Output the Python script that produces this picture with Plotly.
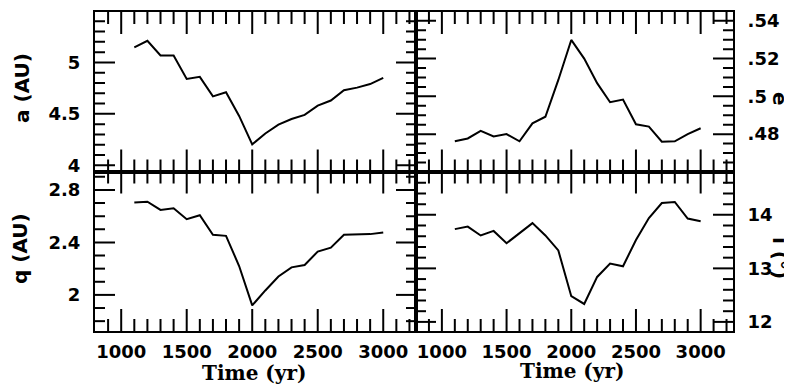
import numpy as np
import plotly.graph_objects as go

time_yr = [1100, 1200, 1300, 1400, 1500, 1600, 1700, 1800, 1900, 2000,
           2100, 2200, 2300, 2400, 2500, 2600, 2700, 2800, 2900, 3000]
a_au = [5.146, 5.21, 5.067, 5.067, 4.84, 4.86, 4.67, 4.71, 4.48, 4.204,
        4.31, 4.395, 4.45, 4.49, 4.58, 4.63, 4.73, 4.755, 4.79, 4.85]
q_au = [2.703, 2.71, 2.647, 2.66, 2.577, 2.607, 2.458, 2.45, 2.22, 1.92,
        2.034, 2.14, 2.21, 2.228, 2.33, 2.36, 2.458, 2.46, 2.463, 2.476]
ecc = [0.4762, 0.4777, 0.4817, 0.4788, 0.48, 0.4762, 0.4857, 0.4892, 0.5087, 0.5299,
       0.52, 0.507, 0.4969, 0.4983, 0.4852, 0.484, 0.476, 0.4762, 0.48, 0.4831]
incl = [13.733, 13.78, 13.615, 13.70, 13.47, 13.66, 13.845, 13.615, 13.335, 12.48,
        12.335, 12.84, 13.09, 13.04, 13.53, 13.94, 14.22, 14.24, 13.93, 13.88]

x_ticks = [1000, 1500, 2000, 2500, 3000]
a_ticks = [4, 4.5, 5]
a_labels = ["4", "4.5", "5"]
q_ticks = [2, 2.4, 2.8]
q_labels = ["2", "2.4", "2.8"]
e_ticks = [0.48, 0.50, 0.52, 0.54]
e_labels = [".48", ".5", ".52", ".54"]
i_ticks = [12, 13, 14]
i_labels = ["12", "13", "14"]

x_range = [800, 3250]
a_range = [3.94, 5.49]
q_range = [1.725, 2.94]
e_range = [0.4602, 0.5447]
i_range = [11.83, 14.81]

fig = go.Figure()
line = dict(color="black", width=2)
fig.add_trace(go.Scatter(x=time_yr, y=a_au, mode="lines", line=line, xaxis="x", yaxis="y"))
fig.add_trace(go.Scatter(x=time_yr, y=ecc, mode="lines", line=line, xaxis="x2", yaxis="y2"))
fig.add_trace(go.Scatter(x=time_yr, y=q_au, mode="lines", line=line, xaxis="x3", yaxis="y3"))
fig.add_trace(go.Scatter(x=time_yr, y=incl, mode="lines", line=line, xaxis="x4", yaxis="y4"))

xsplit = 321 / 638
tickfont = dict(family="DejaVu Sans", size=18, color="black", weight="bold")


def xax(domain, anchor, labels):
    return dict(domain=domain, anchor=anchor, range=x_range, tickmode="array",
                tickvals=x_ticks, ticks="", showline=True, linecolor="black", linewidth=2,
                mirror=True, showgrid=False, zeroline=False, showticklabels=labels,
                tickfont=tickfont, ticklabelstandoff=3)


def yax(domain, anchor, rng, vals, text, side):
    return dict(domain=domain, anchor=anchor, range=rng, tickmode="array",
                tickvals=vals, ticktext=text, ticks="", side=side,
                showline=True, linecolor="black", linewidth=2, mirror=True,
                showgrid=False, zeroline=False, tickfont=tickfont, ticklabelstandoff=9)


fig.update_layout(
    template="none",
    width=784, height=381,
    margin=dict(l=87, r=59, t=4, b=58),
    paper_bgcolor="white", plot_bgcolor="white",
    showlegend=False,
    xaxis=xax([0, xsplit], "y", False),
    xaxis2=xax([xsplit, 1], "y2", False),
    xaxis3=xax([0, xsplit], "y3", True),
    xaxis4=xax([xsplit, 1], "y4", True),
    yaxis=yax([0.5, 1], "x", a_range, a_ticks, a_labels, "left"),
    yaxis2=yax([0.5, 1], "x2", e_range, e_ticks, e_labels, "right"),
    yaxis3=yax([0, 0.5], "x3", q_range, q_ticks, q_labels, "left"),
    yaxis4=yax([0, 0.5], "x4", i_range, i_ticks, i_labels, "right"),
)

# inside tick marks on all four sides of each panel, drawn in the axes' data units
panel_h = 159.5
panel_w = {"x": 321, "x2": 317, "x3": 321, "x4": 317}


def is_major(v, majors, step):
    return any(abs(v - m) < step * 1e-3 for m in majors)


def tick_trace(xr, yr, yrng, y_majors, y_step):
    xs, ys = [], []
    # x ticks (bottom and top)
    dy = (yrng[1] - yrng[0]) / panel_h
    for v in np.arange(900, x_range[1], 100):
        ln = (22 if is_major(v, x_ticks, 100) else 12) * dy
        xs += [v, v, None, v, v, None]
        ys += [yrng[0], yrng[0] + ln, None, yrng[1], yrng[1] - ln, None]
    # y ticks (left and right)
    dx = (x_range[1] - x_range[0]) / panel_w[xr]
    start = np.ceil(yrng[0] / y_step - 1e-9) * y_step
    for v in np.arange(start, yrng[1], y_step):
        ln = (20 if is_major(v, y_majors, y_step) else 10) * dx
        xs += [x_range[0], x_range[0] + ln, None, x_range[1], x_range[1] - ln, None]
        ys += [v, v, None, v, v, None]
    fig.add_trace(go.Scatter(x=xs, y=ys, mode="lines", xaxis=xr, yaxis=yr,
                             line=dict(color="black", width=2), hoverinfo="skip",
                             cliponaxis=False))


tick_trace("x", "y", a_range, a_ticks, 0.1)
tick_trace("x2", "y2", e_range, e_ticks, 0.005)
tick_trace("x3", "y3", q_range, q_ticks, 0.1)
tick_trace("x4", "y4", i_range, i_ticks, 0.2)

ann_font = dict(family="DejaVu Sans", size=20, color="black", weight="bold")
serif_font = dict(family="DejaVu Serif", size=20, color="black", weight="bold")
anns = [
    dict(text="a (AU)", x=-0.1144, y=0.762, textangle=-90, font=ann_font),
    dict(text="q (AU)", x=-0.1176, y=0.260, textangle=-90, font=ann_font),
    dict(text="e", x=1.0737, y=0.727, textangle=90, font=ann_font),
    dict(text="i (°)", x=1.0737, y=0.229, textangle=90, font=ann_font),
    dict(text="Time (yr)", x=0.2492, y=-0.1317, textangle=0, font=serif_font),
    dict(text="Time (yr)", x=0.7476, y=-0.125, textangle=0, font=serif_font),
]
for a in anns:
    fig.add_annotation(xref="paper", yref="paper", showarrow=False,
                       xanchor="center", yanchor="middle", **a)

fig.write_html("out.html")
